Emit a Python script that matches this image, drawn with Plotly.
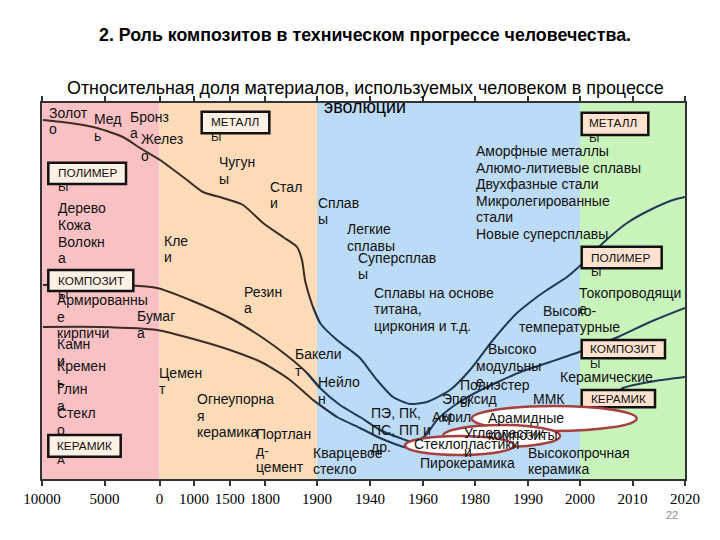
import plotly.graph_objects as go

# ---------------- data ----------------
tick_labels = ["10000", "5000", "0", "1000", "1500", "1800", "1900",
               "1940", "1960", "1980", "1990", "2000", "2010", "2020"]
# position of every tick along the (non-linear) time axis, in axis units
tick_pos = [0, 62.6, 117.5, 152, 187.7, 223, 275, 328, 381, 433, 486, 538, 590.5, 643]

# era bands (start/end in axis units) and their colours
era_start = [0, 117.5, 275, 538]
era_end = [117.5, 275, 538, 643]
era_colors = ["#f9c1c4", "#fcdbb9", "#bcdbf6", "#c8f4bb"]

# boundary curves: relative share (axis units, 0 = bottom)
metal_x = [1, 28, 55, 81, 98, 118, 145, 161, 181, 201, 221, 241, 255, 260, 263, 267, 271, 278,
           295, 308, 318, 335, 351, 368, 385, 408, 428, 451, 475, 495, 505, 525, 541, 561,
           585, 608, 631, 643]
metal_y = [359, 356, 351, 342, 331, 319, 299, 287, 281, 274, 256, 242, 232, 219, 199, 184, 172, 156,
           139, 129, 121, 99, 82, 75, 77, 89, 109, 139, 166, 182, 189, 202, 216, 236,
           256, 269, 279, 282]

comp_x = [1, 58, 115, 148, 188, 221, 248, 265, 278, 298, 318, 338, 358, 371, 383, 395, 413,
          433, 458, 481, 508, 540, 576, 608, 643]
comp_y = [194, 195, 191, 179, 161, 141, 121, 106, 91, 74, 62, 49, 41, 37, 43, 59, 74,
          86, 98, 108, 117, 128, 142, 157, 171]

ceram_x = [1, 58, 115, 155, 188, 221, 248, 271, 295, 318, 338, 365, 388, 418, 458, 498, 538,
           568, 581, 613, 643]
ceram_y = [152, 152, 149, 139, 129, 116, 99, 79, 62, 51, 41, 31, 27, 29, 36, 47, 61,
           79, 91, 98, 102]

# ---------------- helpers (pixel -> paper / axis units) ----------------
X0, Y0, PW, PH = 42, 479, 643, 376


def ax(x):
    return x - X0


def ay(y):
    return Y0 - y


def paper_x(x):
    return (x - X0) / PW


def paper_y(y):
    return (Y0 - y) / PH


annotations = []
shapes = []


def block(lines, x, y, size=14, lh=16.6, color="#111111", anchor="left",
          family="Liberation Sans", bold=False):
    for i, ln in enumerate(lines):
        t = "<b>%s</b>" % ln if bold else ln
        annotations.append(dict(x=paper_x(x), y=paper_y(y + i * lh), xref="paper",
                                yref="paper", text=t,
                                showarrow=False, xanchor=anchor, yanchor="middle",
                                borderpad=0,
                                font=dict(size=size, color=color, family=family)))


def box(x0, y0, x1, y1, fill):
    shapes.append(dict(type="rect", xref="x", yref="y", x0=ax(x0), x1=ax(x1),
                       y0=ay(y1), y1=ay(y0), fillcolor=fill,
                       line=dict(color="#111111", width=2.5), layer="above"))


def ellipse(x0, y0, x1, y1):
    shapes.append(dict(type="circle", xref="x", yref="y", x0=ax(x0), x1=ax(x1),
                       y0=ay(y1), y1=ay(y0), fillcolor="#ffffff",
                       line=dict(color="#a5403f", width=2.5), layer="above"))


# era bands
for s, e, c in zip(era_start, era_end, era_colors):
    shapes.append(dict(type="rect", xref="x", yref="y", x0=s, x1=e, y0=0, y1=376,
                       fillcolor=c, line=dict(width=0), layer="below"))

# boxes
LEFT_FILL = "#fdf0e4"
RIGHT_FILL = "#fde2d0"
box(201.7, 111.7, 269.3, 133.3, LEFT_FILL)
box(48.3, 162.7, 126, 184, LEFT_FILL)
box(48.3, 270, 133.3, 291, LEFT_FILL)
box(48.3, 435, 120.7, 456.7, LEFT_FILL)
box(581.7, 112.7, 648.3, 135, RIGHT_FILL)
box(581.7, 246.7, 661.7, 268.3, RIGHT_FILL)
box(581.7, 340, 665, 358.3, RIGHT_FILL)
box(581.7, 390, 655, 407.3, RIGHT_FILL)

# ellipses
ellipse(471.7, 406, 636.7, 431)
ellipse(443, 425, 560, 447)
ellipse(405, 436, 514, 455)

# box texts
BS, BL = 11.8, 14.4
block(["МЕТАЛЛ", "Ы"], 210, 122.3, BS, BL)
block(["ПОЛИМЕР", "Ы"], 56.7, 172.7, BS, BL)
block(["КОМПОЗИТ", "Ы"], 56.7, 280.7, BS, BL)
block(["КЕРАМИК", "А"], 56, 445.7, BS, BL)
block(["МЕТАЛЛ", "Ы"], 588.3, 123.3, BS, BL)
block(["ПОЛИМЕР", "Ы"], 590, 257.7, BS, BL)
block(["КОМПОЗИТ", "Ы"], 589.3, 349.3, BS, BL)
block(["КЕРАМИК"], 590, 399.3, BS, BL)

# labels
block(["Золот", "о"], 48.3, 112.7)
block(["Мед", "ь"], 92.7, 119.3)
block(["Бронз", "а"], 129.3, 116.7)
block(["Желез", "о"], 140, 139)
block(["Чугун", "ы"], 218.3, 162.3)
block(["Стал", "и"], 269.3, 186.7)
block(["Сплав", "ы"], 317.3, 202.7)
block(["Дерево", "Кожа", "Волокн", "а"], 56.7, 208.3)
block(["Кле", "и"], 163.3, 240.7)
block(["Легкие", "сплавы"], 346, 229.3)
block(["Суперсплав", "ы"], 357, 257.7)
block(["Аморфные металлы", "Алюмо-литиевые сплавы", "Двухфазные стали",
       "Микролегированные", "стали", "Новые суперсплавы"], 475, 151)
block(["Армированны", "е", "кирпичи"], 56, 300)
block(["Резин", "а"], 243.3, 291.7)
block(["Бумаг", "а"], 136, 316)
block(["Камн", "и"], 56, 344)
block(["Кремен", "ь"], 56, 366)
block(["Глин", "а"], 56, 389)
block(["Стекл", "о"], 56, 413.3)
block(["Цемен", "т"], 158.3, 372.7)
block(["Огнеупорна", "я", "керамика"], 195.7, 399)
block(["Портлан", "д-", "цемент"], 255, 434)
block(["Бакели", "т"], 294.3, 354)
block(["Нейло", "н"], 316.7, 382.3)
block(["Кварцевое", "стекло"], 311.7, 452.7)
block(["Сплавы на основе", "титана,", "циркония и т.д."], 373.3, 292.7)
block(["Токопроводящи", "е"], 578.3, 292.7)
block(["Высоко-", "температурные"], 569, 310.7, anchor="center")
block(["Высоко"], 486.7, 349)
block(["модульны", "е"], 475, 365.7)
block(["Керамические"], 559, 376.7)
block(["Полиэстер", "ы"], 459, 385)
block(["Эпоксид", "ы"], 441, 399.3)
block(["Акрил"], 431, 416.7)
block(["ММК"], 531.7, 399)
block(["ПЭ, ПК,", "ПС, ПП и", "др."], 370, 413.3)
block(["Пирокерамика"], 419.3, 462.7)
block(["Высокопрочная", "керамика"], 526.7, 452.7)
block(["Арамидные", "композиты"], 486.7, 418.3)
block(["Углепластик", "и"], 463.3, 433.3, lh=18.4)
block(["Стеклопластики"], 412.7, 444)

# titles and page number
block(["2. Роль композитов в техническом прогрессе человечества."], 365, 35,
      size=17.8, anchor="center", bold=True, color="#000000")
block(["Относительная доля материалов, используемых человеком в процессе", "эволюции"],
      365, 88, size=17.9, lh=19, anchor="center", color="#000000")
block(["22"], 672, 515, size=11, anchor="center", color="#8a8a8a")

# ---------------- figure ----------------
fig = go.Figure()
SPLIT = era_start[2]  # line colour changes in the modern era
OLD_COLOR, NEW_COLOR = "#3d2b26", "#203a58"


def add_curve(xs, ys):
    i_last_old = max(i for i, v in enumerate(xs) if v <= SPLIT)
    seg_old = (xs[:i_last_old + 2], ys[:i_last_old + 2])
    seg_new = (xs[i_last_old:], ys[i_last_old:])
    for (sx, sy), col in [(seg_old, OLD_COLOR), (seg_new, NEW_COLOR)]:
        fig.add_trace(go.Scatter(x=sx, y=sy, mode="lines",
                                 line=dict(shape="spline", smoothing=0.6, color=col, width=2),
                                 hoverinfo="skip", showlegend=False))


for xs, ys in [(metal_x, metal_y), (comp_x, comp_y), (ceram_x, ceram_y)]:
    add_curve(xs, ys)

fig.update_layout(
    width=712, height=532,
    margin=dict(l=34, r=35, t=95, b=61),
    paper_bgcolor="white", plot_bgcolor="white",
    shapes=shapes, annotations=annotations, showlegend=False,
    xaxis=dict(range=[0, 643], tickvals=tick_pos, ticktext=tick_labels,
               showgrid=False, zeroline=False, showline=True, linecolor="#333333",
               linewidth=1.5, mirror="ticks", ticks="outside", ticklen=5, tickwidth=1.5,
               tickcolor="#333333",
               tickfont=dict(family="Liberation Serif", size=15, color="#000000")),
    yaxis=dict(range=[0, 376], showgrid=False, zeroline=False, showticklabels=False,
               showline=True, linecolor="#333333", linewidth=1.5, mirror=True, ticks=""),
)

fig.write_html("out.html")
